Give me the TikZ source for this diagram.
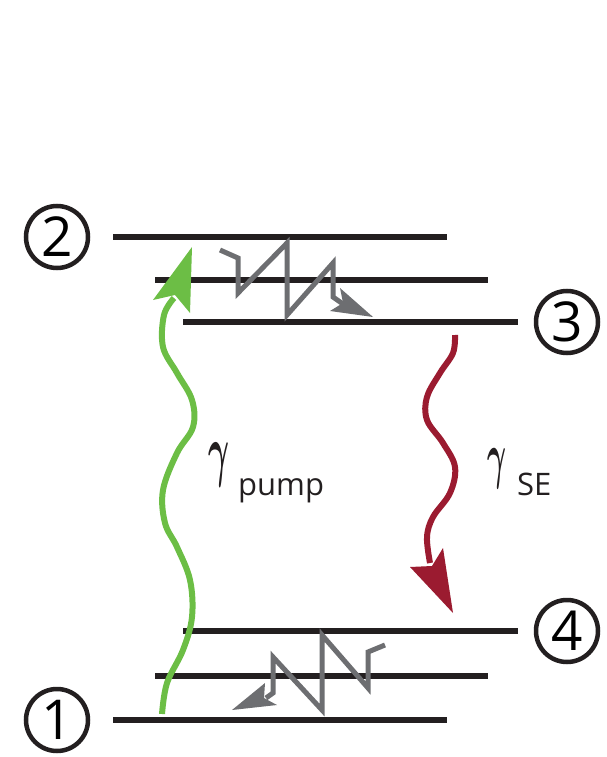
\documentclass[tikz,border=0pt]{standalone}
\usepackage{fontspec}
\usepackage{graphicx}
\usepackage{bm}
\newfontfamily\labfont{Open Sans}
\definecolor{pumpgreen}{HTML}{6CBE45}
\definecolor{searrow}{HTML}{9B1B30}
\definecolor{relaxgray}{HTML}{6D6E71}
\definecolor{levelblack}{HTML}{231F20}
\begin{document}
\begin{tikzpicture}[x=1pt,y=-1pt,
  level/.style={draw=levelblack,line width=6pt},
  statecircle/.style={circle,draw=levelblack,line width=4.5pt,minimum size=62pt,inner sep=0pt,
    font=\labfont\fontsize{55}{55}\selectfont},
  wavy/.style={line width=6pt,line cap=butt},
  zigzag/.style={draw=relaxgray,line width=5pt,line join=miter},
  sublabel/.style={anchor=base west,inner sep=0pt,font=\labfont\fontsize{31}{31}\selectfont,text=levelblack},
  gammalabel/.style={anchor=north west,inner sep=0pt,text=levelblack}]
\useasboundingbox (0,0) rectangle (606,757);

% energy levels
\coordinate (l2a) at (113,237); \coordinate (l2b) at (447,237);
\coordinate (l2ra) at (155,280); \coordinate (l2rb) at (488,280);
\coordinate (l3a) at (183,322); \coordinate (l3b) at (518,322);
\coordinate (l4a) at (183,631); \coordinate (l4b) at (518,631);
\coordinate (l1ra) at (155,676); \coordinate (l1rb) at (488,676);
\coordinate (l1a) at (113,720); \coordinate (l1b) at (447,720);
\draw[level] (l2a) -- (l2b);
\draw[level] (l2ra) -- (l2rb);
\draw[level] (l3a) -- (l3b);
\draw[level] (l4a) -- (l4b);
\draw[level] (l1ra) -- (l1rb);
\draw[level] (l1a) -- (l1b);

% state labels
\node[statecircle] (s2) at (57,237) {2};
\node[statecircle] (s1) at (57,720) {1};
\node[statecircle] (s3) at (567,322) {3};
\node[statecircle] (s4) at (567,631) {4};

% pump arrow
\draw[wavy,draw=pumpgreen] plot[smooth,tension=0.6] coordinates {
  (162,714) (167,683) (183,650) (192,617) (190,580) (177,547) (165,523)
  (163,490) (177,453) (193,427) (192,400) (177,373) (163,347) (164,315) (174,298)};
\coordinate (gtip) at (192,247);
\fill[pumpgreen] (gtip) -- (190,313) -- (175,295) -- (153,300) -- cycle;

% stimulated emission arrow
\draw[wavy,draw=searrow] plot[smooth,tension=0.6] coordinates {
  (455,335) (453,353) (440,373) (427,397) (427,420) (443,443) (455,467)
  (450,493) (433,517) (427,537) (430,563)};
\coordinate (rtip) at (453,613);
\fill[searrow] (rtip) -- (410,567) -- (432,566) -- (443,548) -- cycle;

% relaxation zigzags
\draw[zigzag] (220,250) -- (238,258) -- (238,293) -- (287,243) -- (287,315)
  -- (333,263) -- (333,297) -- (343,304);
\coordinate (ztip) at (373,317);
\fill[relaxgray] (ztip) -- (330,311) -- (343,303) -- (340,288) -- cycle;

\draw[zigzag] (385,645) -- (368,652) -- (368,688) -- (322,635) -- (322,710)
  -- (273,657) -- (273,693) -- (266,698);
\coordinate (btip) at (232,710);
\fill[relaxgray] (btip) -- (265,683) -- (264,698) -- (277,705) -- cycle;

% rate labels
\node[gammalabel] (gp) at (208,443) {\resizebox*{21pt}{44pt}{$\bm{\gamma}$}};
\node[sublabel] (gps) at (238,495) {pump};
\node[gammalabel] (gs) at (487,448) {\resizebox*{19pt}{40pt}{$\bm{\gamma}$}};
\node[sublabel] (gss) at (517,495) {SE};
\end{tikzpicture}
\end{document}
